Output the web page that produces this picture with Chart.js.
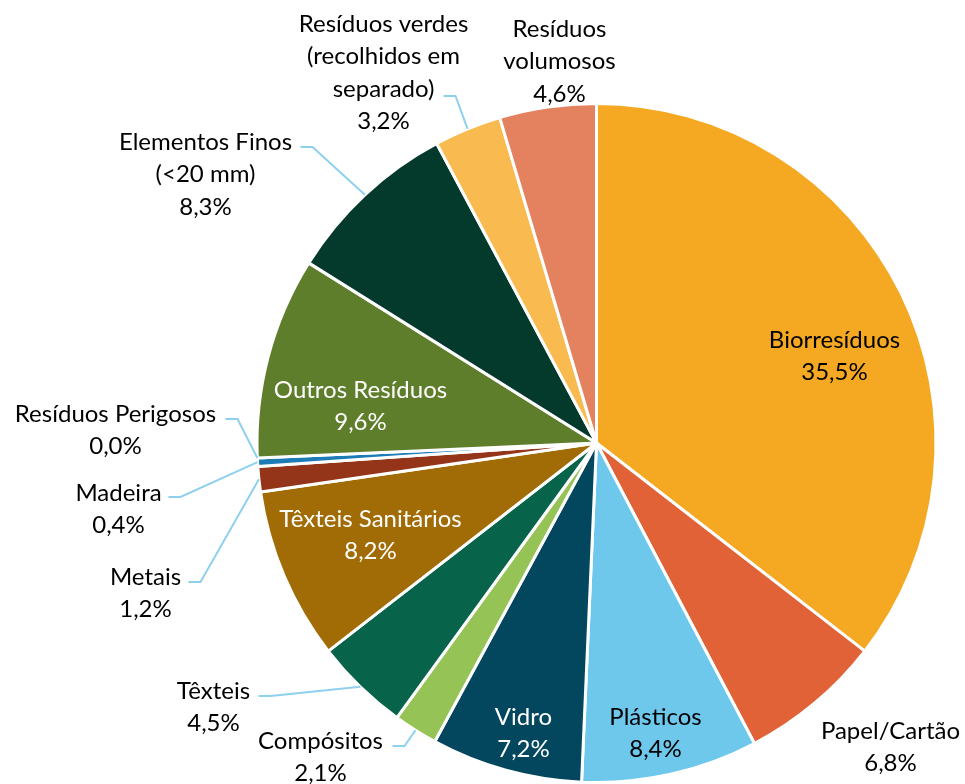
<!DOCTYPE html>
<html>
<head>
<meta charset="utf-8">
<script src="https://cdn.jsdelivr.net/npm/chart.js@4.4.1/dist/chart.umd.min.js"></script>
<style>
  html, body { margin: 0; padding: 0; background: #fff; }
  #wrap { width: 965px; height: 784px; }
</style>
</head>
<body>
<div id="wrap"><canvas id="chart"></canvas></div>
<script>
// categories, clockwise from 12 o'clock
const categories = [
  'Biorresíduos', 'Papel/Cartão', 'Plásticos', 'Vidro', 'Compósitos', 'Têxteis',
  'Têxteis Sanitários', 'Metais', 'Madeira', 'Resíduos Perigosos', 'Outros Resíduos',
  'Elementos Finos (<20 mm)', 'Resíduos verdes (recolhidos em separado)', 'Resíduos volumosos'
]
// how each category name wraps on the chart
const nameLines = [
  ['Biorresíduos'], ['Papel/Cartão'], ['Plásticos'], ['Vidro'], ['Compósitos'], ['Têxteis'],
  ['Têxteis Sanitários'], ['Metais'], ['Madeira'], ['Resíduos Perigosos'], ['Outros Resíduos'],
  ['Elementos Finos', '(<20 mm)'], ['Resíduos verdes', '(recolhidos em', 'separado)'], ['Resíduos', 'volumosos']
]
// share of total, %
const shares = [35.5, 6.8, 8.4, 7.2, 2.1, 4.5, 8.2, 1.2, 0.4, 0.0, 9.6, 8.3, 3.2, 4.6]

const sliceColors = [
  '#F5A821', '#E06236', '#6DC8EC', '#03475F', '#95C355', '#07634A',
  '#A16B05', '#943519', '#1C7CB6', '#7F7F7F', '#5F7E2C',
  '#043A2C', '#F9BB4F', '#E4815E'
]

// label placement relative to pie centre (first line centre), leader start if any
const labelLayout = [
  { dx: 238, dy: -103, color: '#000' },
  { dx: 294, dy: 288, color: '#000' },
  { dx: 59, dy: 274, color: '#000' },
  { dx: -73, dy: 274, color: '#fff' },
  { dx: -276, dy: 298, color: '#000', leader: [-204, 303] },
  { dx: -383, dy: 248, color: '#000', leader: [-338, 253] },
  { dx: -226, dy: 76, color: '#fff' },
  { dx: -451, dy: 134, color: '#000', leader: [-408, 139] },
  { dx: -478, dy: 50, color: '#000', leader: [-428, 54] },
  { dx: -481, dy: -29, color: '#000', leader: [-371, -24] },
  { dx: -236, dy: -53, color: '#fff' },
  { dx: -391, dy: -301, color: '#000', leader: [-296, -296] },
  { dx: -213, dy: -419, color: '#000', leader: [-153, -347] },
  { dx: -37, dy: -414, color: '#000' }
]

const FONT = '24px Lato'
const LINE_H = 32.5

const fmt = (v) => v.toFixed(1).replace('.', ',') + '%'

const sliceLabels = {
  id: 'sliceLabels',
  afterDatasetsDraw(chart) {
    const ctx = chart.ctx
    const arcs = chart.getDatasetMeta(0).data
    ctx.save()
    arcs.forEach((arc, i) => {
      const lay = labelLayout[i]
      const cx = arc.x, cy = arc.y
      if (lay.leader) {
        const mid = (arc.startAngle + arc.endAngle) / 2
        const ex = cx + arc.outerRadius * Math.cos(mid)
        const ey = cy + arc.outerRadius * Math.sin(mid)
        const sx = cx + lay.leader[0], sy = cy + lay.leader[1]
        ctx.strokeStyle = '#8FD0EE'
        ctx.lineWidth = 2
        ctx.beginPath()
        ctx.moveTo(sx, sy)
        ctx.lineTo(sx + 12, sy)
        ctx.lineTo(ex, ey)
        ctx.stroke()
      }
      const lines = nameLines[i].concat([fmt(shares[i])])
      ctx.font = FONT
      ctx.fillStyle = lay.color
      ctx.textAlign = 'center'
      ctx.textBaseline = 'middle'
      lines.forEach((t, k) => {
        ctx.fillText(t, cx + lay.dx, cy + lay.dy + k * LINE_H)
      })
    })
    ctx.restore()
  }
}

const ctx = document.getElementById('chart').getContext('2d')
new Chart(ctx, {
  type: 'pie',
  data: {
    labels: categories,
    datasets: [{
      data: shares,
      backgroundColor: sliceColors,
      borderColor: '#fff',
      borderWidth: 3
    }]
  },
  options: {
    responsive: true,
    maintainAspectRatio: false,
    animation: false,
    layout: { padding: { left: 255, right: 27, top: 102, bottom: 0 } },
    plugins: {
      legend: { display: false },
      tooltip: { enabled: false }
    }
  },
  plugins: [sliceLabels]
})
</script>
</body>
</html>
